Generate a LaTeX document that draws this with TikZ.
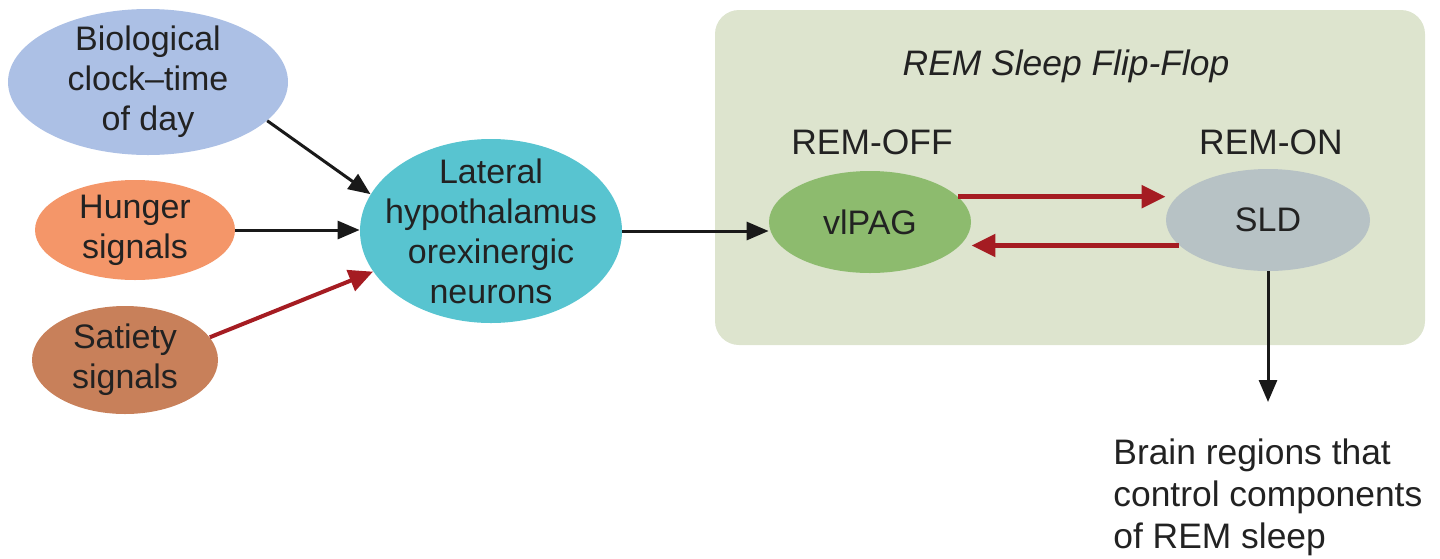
\documentclass[tikz,border=0pt]{standalone}
\usepackage{fontspec}
\setmainfont{Liberation Sans}
\usetikzlibrary{shapes.geometric,arrows.meta}
\definecolor{bioC}{RGB}{172,192,229}
\definecolor{hunC}{RGB}{244,150,105}
\definecolor{satC}{RGB}{200,128,90}
\definecolor{latC}{RGB}{88,196,208}
\definecolor{boxC}{RGB}{221,228,206}
\definecolor{pagC}{RGB}{141,187,110}
\definecolor{sldC}{RGB}{183,194,197}
\definecolor{redA}{RGB}{165,28,34}
\definecolor{txtC}{RGB}{34,34,34}
\tikzset{
  blob/.style={ellipse, inner xsep=-2pt, inner ysep=-5pt, align=center, text=txtC,
    font=\fontsize{17}{20}\selectfont},
  lbl/.style={text=txtC, font=\fontsize{17.7}{21}\selectfont, inner sep=0pt},
  blk/.style={line width=1.5pt, draw=black!90, -{Triangle[length=11pt,width=9pt]}},
  redarr/.style={line width=2.6pt, draw=redA, -{Triangle[length=12pt,width=11pt]}}
}
\begin{document}
\begin{tikzpicture}[x=0.5pt,y=-0.5pt]
\useasboundingbox (0,0) rectangle (1440,558);
\fill[boxC, rounded corners=12pt] (715,10) rectangle (1425,345);
\node[lbl, font=\fontsize{17.7}{21}\selectfont\itshape] (title) at (1066,66) {REM Sleep Flip-Flop};
\node[lbl] (off) at (872,142) {REM-OFF};
\node[lbl] (on) at (1271,142) {REM-ON};

\node[blob, fill=bioC, minimum width=140pt, minimum height=73pt] (bio) at (148,82) {Biological\\clock--time\\of day};
\node[blob, fill=hunC, minimum width=100pt, minimum height=50pt] (hun) at (135,230) {Hunger\\signals};
\node[blob, fill=satC, minimum width=93pt, minimum height=54pt] (sat) at (125,360) {Satiety\\signals};
\node[blob, fill=latC, inner xsep=-14pt, inner ysep=-8pt, minimum width=131pt, minimum height=92pt] (lat) at (491,231) {Lateral\\hypothalamus\\orexinergic\\neurons};
\node[blob, fill=pagC, minimum width=101pt, minimum height=51pt] (pag) at (870,222) {vlPAG};
\node[blob, fill=sldC, minimum width=102pt, minimum height=51pt] (sld) at (1268,220) {SLD};

\node[lbl, align=left, anchor=north west] (brain) at (1113,438) {Brain regions that\\control components\\of REM sleep};
\coordinate (brainin) at (1268,402);

\draw[blk] (bio.-18) -- (lat.163);
\draw[blk] (hun.east) -- (hun.east -| lat.west);
\draw[redarr, line width=2pt] (sat.15) -- (lat.-161);
\draw[blk] (lat.east) -- (lat.east -| pag.west);
\draw[redarr] (pag.16) -- (pag.16 -| sld.west);
\draw[redarr] (sld.-164) -- (sld.-164 -| pag.east);
\draw[blk] (sld.south) -- (brainin);
\end{tikzpicture}
\end{document}
